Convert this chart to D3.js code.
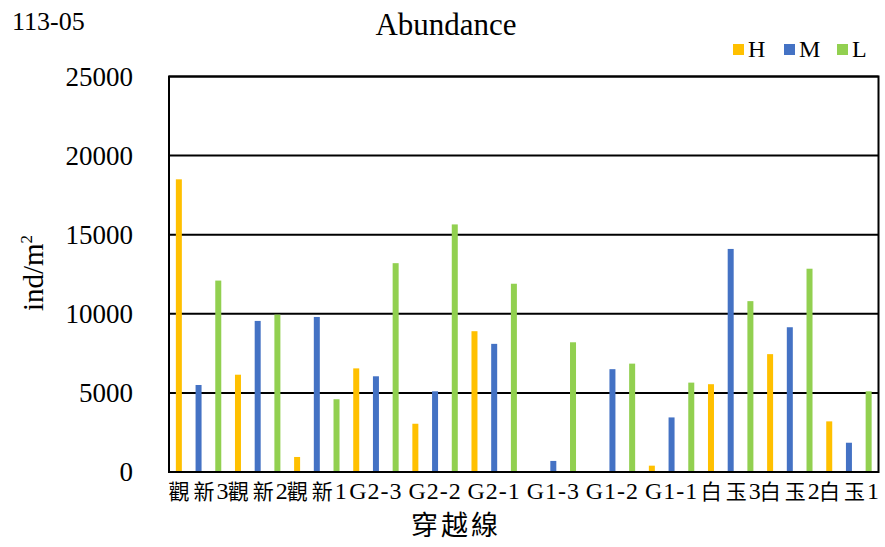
<!DOCTYPE html>
<html>
<head>
<meta charset="utf-8">
<script src="https://cdn.jsdelivr.net/npm/d3@7"></script>
<style>
  html, body { margin: 0; padding: 0; background: #fff; }
  svg { display: block; }
</style>
</head>
<body>
<svg id="chart" width="885" height="547"></svg>
<script>
// ---- data ----
const categories = ["觀新3", "觀新2", "觀新1", "G2-3", "G2-2", "G2-1", "G1-3", "G1-2", "G1-1", "白玉3", "白玉2", "白玉1"];
const seriesNames = ["H", "M", "L"];
const H = [18500, 6150, 950, 6550, 3050, 8900, 0, 0, 400, 5550, 7450, 3200];
const M = [5500, 9550, 9800, 6050, 5100, 8100, 700, 6500, 3450, 14100, 9150, 1850];
const L = [12100, 9950, 4600, 13200, 15650, 11900, 8200, 6850, 5650, 10800, 12850, 5100];
const yTicks = [0, 5000, 10000, 15000, 20000, 25000];
const colors = ["#FFC000", "#4472C4", "#92D050"];

const series = [H, M, L];
const serif = "'Liberation Serif', 'Times New Roman', 'Noto Sans CJK TC', serif";
const cjkFont = "'Noto Sans CJK TC', sans-serif";

const svg = d3.select("#chart");
const plot = { left: 169, right: 878.5, top: 76.5, bottom: 472 };

const x = d3.scaleBand().domain(categories).range([plot.left, plot.right]).padding(0);
const xs = d3.scaleBand().domain(seriesNames).range([0, x.bandwidth()]).padding(0);
const y = d3.scaleLinear().domain([0, 25000]).range([plot.bottom, plot.top]);

// gridlines
svg.append("g")
  .selectAll("line")
  .data(yTicks.slice(1))
  .join("line")
  .attr("x1", plot.left).attr("x2", plot.right)
  .attr("y1", d => y(d)).attr("y2", d => y(d))
  .attr("stroke", "#000").attr("stroke-width", 2);

// bars
const barW = 6;
seriesNames.forEach((s, si) => {
  svg.append("g")
    .selectAll("rect")
    .data(categories.map((c, i) => ({ c, v: series[si][i] })))
    .join("rect")
    .attr("x", d => x(d.c) + xs(s) + xs.bandwidth() / 2 - barW / 2)
    .attr("width", barW)
    .attr("y", d => y(d.v))
    .attr("height", d => y(0) - y(d.v))
    .attr("fill", colors[si]);
});

// border
svg.append("rect")
  .attr("x", plot.left).attr("y", plot.top)
  .attr("width", plot.right - plot.left).attr("height", plot.bottom - plot.top)
  .attr("fill", "none").attr("stroke", "#000").attr("stroke-width", 2);

// y axis
const yAxis = svg.append("g")
  .attr("transform", `translate(${plot.left},0)`)
  .call(d3.axisLeft(y).tickValues(yTicks).tickSize(0).tickPadding(36).tickFormat(d3.format("d")));
yAxis.select(".domain").remove();
yAxis.selectAll("text")
  .attr("font-family", serif).attr("font-size", 27).attr("fill", "#000");

// x axis
const xAxis = svg.append("g")
  .attr("transform", `translate(0,${plot.bottom})`)
  .call(d3.axisBottom(x).tickSize(0).tickPadding(10));
xAxis.select(".domain").remove();
const isCJK = ch => /[\u3400-\u9fff]/.test(ch);
xAxis.selectAll("text")
  .attr("font-family", serif).attr("font-size", 24).attr("fill", "#000")
  .attr("dy", "0.72em")
  .each(function(d) {
    const t = d3.select(this);
    t.text(null);
    const chars = Array.from(d);
    if (chars.some(isCJK)) {
      chars.forEach((ch, k) => {
        const sp = t.append("tspan").text(ch);
        if (isCJK(ch)) sp.attr("font-family", cjkFont).attr("font-size", 21);
        if (k > 0) sp.attr("dx", isCJK(ch) ? 4 : 2);
      });
    } else {
      t.attr("letter-spacing", 1).text(d);
    }
  });

// titles
svg.append("text")
  .attr("x", 446).attr("y", 35)
  .attr("text-anchor", "middle")
  .attr("font-family", serif).attr("font-size", 31).attr("fill", "#000")
  .text("Abundance");

svg.append("text")
  .attr("x", 12).attr("y", 30)
  .attr("font-family", serif).attr("font-size", 26).attr("fill", "#000")
  .text("113-05");

const yl = svg.append("text")
  .attr("transform", "translate(43,273) rotate(-90)")
  .attr("text-anchor", "middle")
  .attr("font-family", serif).attr("font-size", 29).attr("fill", "#000");
yl.append("tspan").text("ind/m");
yl.append("tspan").attr("font-size", 17).attr("dy", -11).text("2");

svg.append("text")
  .attr("x", 456).attr("y", 535)
  .attr("text-anchor", "middle")
  .attr("font-family", cjkFont).attr("font-size", 27).attr("fill", "#000")
  .attr("letter-spacing", 3)
  .text("穿越線");

// legend
const legendX = [733, 784, 837];
const legend = svg.append("g");
seriesNames.forEach((s, i) => {
  legend.append("rect")
    .attr("x", legendX[i]).attr("y", 44)
    .attr("width", 11).attr("height", 11)
    .attr("fill", colors[i]);
  legend.append("text")
    .attr("x", legendX[i] + 15).attr("y", 57)
    .attr("font-family", serif).attr("font-size", 24).attr("fill", "#000")
    .text(s);
});
</script>
</body>
</html>
